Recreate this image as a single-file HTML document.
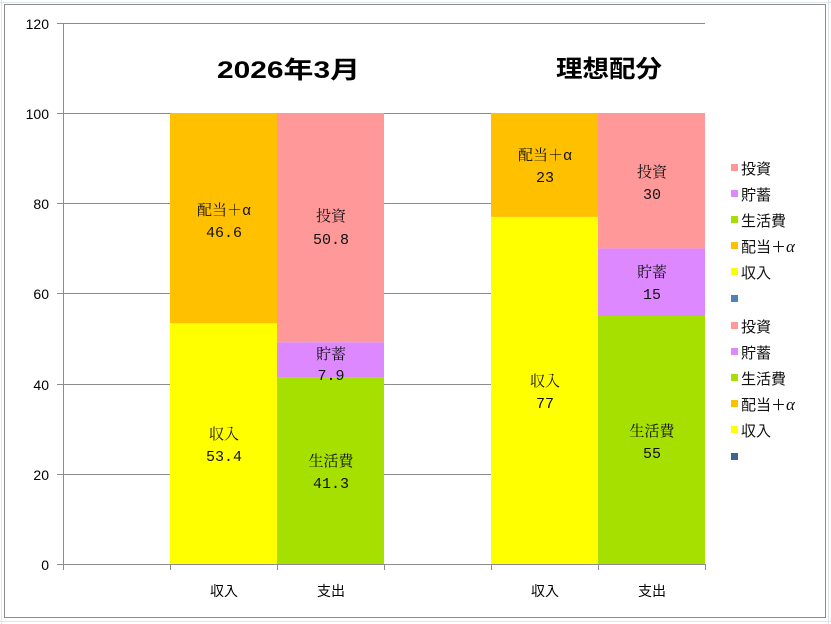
<!DOCTYPE html>
<html><head><meta charset="utf-8"><style>
html,body{margin:0;padding:0;background:#fff;}
svg{display:block;}
.ax{font-family:"Liberation Sans","Noto Sans CJK JP",sans-serif;font-size:14px;fill:#000;}
.lb{font-family:"Liberation Mono","Noto Serif CJK JP",monospace;font-size:15px;fill:#111;text-anchor:middle;}
.lg{font-family:"Liberation Sans","Noto Sans CJK JP",sans-serif;font-size:15px;fill:#111;}
.tt{font-family:"Liberation Sans","Noto Sans CJK JP",sans-serif;font-size:24px;font-weight:bold;fill:#000;}
</style></head><body>
<svg width="831" height="624" xmlns="http://www.w3.org/2000/svg">
<rect width="831" height="624" fill="#fff"/>
<g stroke="#dfe3ea" stroke-width="1">
<line x1="0" y1="2.5" x2="831" y2="2.5"/><line x1="0" y1="621.5" x2="831" y2="621.5"/>
<line x1="828.5" y1="0" x2="828.5" y2="624"/><line x1="1.5" y1="0" x2="1.5" y2="624"/>
</g>
<rect x="4.5" y="4.5" width="821" height="613" fill="#fff" stroke="#8c8c8c"/>
<g stroke="#8c8c8c" stroke-width="1">
<line x1="57" y1="23.5" x2="705" y2="23.5"/>
<line x1="57" y1="113.5" x2="705" y2="113.5"/>
<line x1="57" y1="203.5" x2="705" y2="203.5"/>
<line x1="57" y1="293.5" x2="705" y2="293.5"/>
<line x1="57" y1="384.5" x2="705" y2="384.5"/>
<line x1="57" y1="474.5" x2="705" y2="474.5"/>
</g>
<rect x="170" y="323.3" width="107" height="240.7" fill="#ffff00"/>
<rect x="170" y="113" width="107" height="210.3" fill="#ffc000"/>
<rect x="277" y="377.8" width="107" height="186.2" fill="#a6e000"/>
<rect x="277" y="342.2" width="107" height="35.6" fill="#dd88ff"/>
<rect x="277" y="113" width="107" height="229.2" fill="#ff9999"/>
<rect x="491" y="216.9" width="107" height="347.1" fill="#ffff00"/>
<rect x="491" y="113" width="107" height="103.9" fill="#ffc000"/>
<rect x="598" y="316" width="107" height="248" fill="#a6e000"/>
<rect x="598" y="248.4" width="107" height="67.6" fill="#dd88ff"/>
<rect x="598" y="113" width="107" height="135.4" fill="#ff9999"/>
<g stroke="#8c8c8c" stroke-width="1">
<line x1="63.5" y1="23" x2="63.5" y2="570"/>
<line x1="57" y1="564.5" x2="705" y2="564.5"/>
<line x1="170.5" y1="564" x2="170.5" y2="570"/>
<line x1="277.5" y1="564" x2="277.5" y2="570"/>
<line x1="384.5" y1="564" x2="384.5" y2="570"/>
<line x1="491.5" y1="564" x2="491.5" y2="570"/>
<line x1="598.5" y1="564" x2="598.5" y2="570"/>
<line x1="705.5" y1="564" x2="705.5" y2="570"/>
</g>
<g class="ax" text-anchor="end">
<text x="49" y="29">120</text><text x="49" y="119">100</text><text x="49" y="209">80</text>
<text x="49" y="299">60</text><text x="49" y="390">40</text><text x="49" y="480">20</text><text x="49" y="570">0</text>
</g>
<g class="ax" text-anchor="middle" font-size="15">
<text x="224" y="596">収入</text><text x="331" y="596">支出</text>
<text x="545" y="596">収入</text><text x="652" y="596">支出</text>
</g>
<text class="tt" x="217" y="78" textLength="143" lengthAdjust="spacingAndGlyphs">2026年3月</text>
<text class="tt" x="556" y="77" textLength="106" lengthAdjust="spacingAndGlyphs">理想配分</text>
<g class="lb">
<text x="224" y="215">配当＋α</text><text x="224" y="237">46.6</text>
<text x="224" y="439">収入</text><text x="224" y="461">53.4</text>
<text x="331" y="221">投資</text><text x="331" y="244">50.8</text>
<text x="331" y="359">貯蓄</text><text x="331" y="380">7.9</text>
<text x="331" y="466">生活費</text><text x="331" y="488">41.3</text>
<text x="545" y="160">配当＋α</text><text x="545" y="182">23</text>
<text x="545" y="386">収入</text><text x="545" y="408">77</text>
<text x="652" y="177">投資</text><text x="652" y="199">30</text>
<text x="652" y="277">貯蓄</text><text x="652" y="299">15</text>
<text x="652" y="436">生活費</text><text x="652" y="458">55</text>
</g>
<g>
<rect x="731" y="164" width="7" height="7" fill="#ff9999"/>
<rect x="731" y="190" width="7" height="7" fill="#dd88ff"/>
<rect x="731" y="216" width="7" height="7" fill="#a6e000"/>
<rect x="731" y="242" width="7" height="7" fill="#ffc000"/>
<rect x="731" y="268" width="7" height="7" fill="#ffff00"/>
<rect x="731" y="295" width="7" height="7" fill="#4f81bd"/>
<rect x="731" y="322" width="7" height="7" fill="#ff9999"/>
<rect x="731" y="348" width="7" height="7" fill="#dd88ff"/>
<rect x="731" y="374" width="7" height="7" fill="#a6e000"/>
<rect x="731" y="400" width="7" height="7" fill="#ffc000"/>
<rect x="731" y="426" width="7" height="7" fill="#ffff00"/>
<rect x="731" y="453" width="7" height="7" fill="#3e6496"/>
</g>
<g class="lg">
<text x="741" y="174">投資</text><text x="741" y="200">貯蓄</text><text x="741" y="226">生活費</text>
<text x="741" y="252">配当＋<tspan font-family="Liberation Serif" font-style="italic" font-size="17">α</tspan></text><text x="741" y="278">収入</text>
<text x="741" y="332">投資</text><text x="741" y="358">貯蓄</text><text x="741" y="384">生活費</text>
<text x="741" y="410">配当＋<tspan font-family="Liberation Serif" font-style="italic" font-size="17">α</tspan></text><text x="741" y="436">収入</text>
</g>
</svg>
</body></html>
